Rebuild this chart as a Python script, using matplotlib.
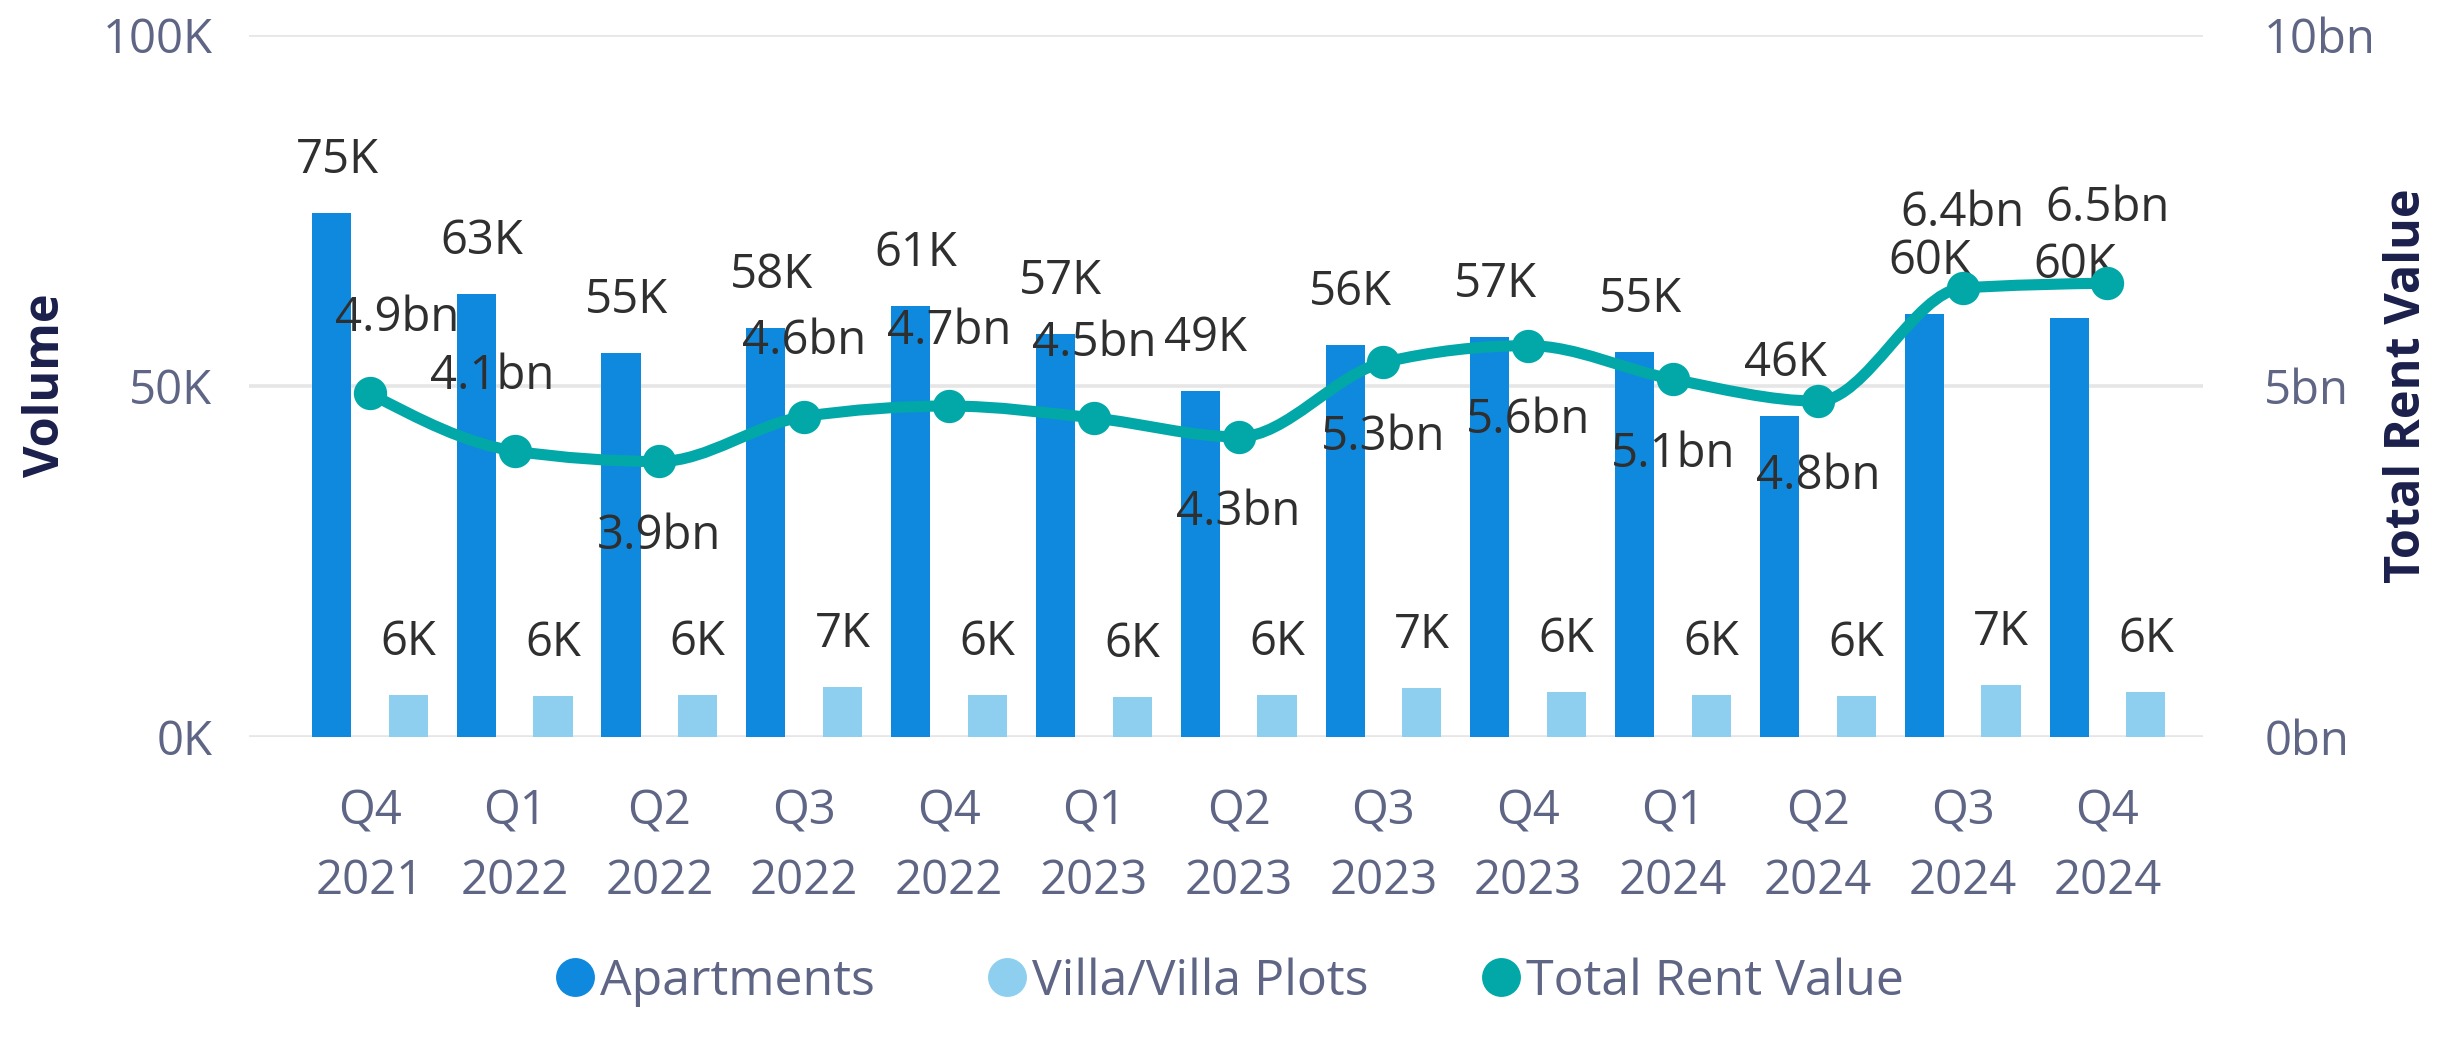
import matplotlib.pyplot as plt
import numpy as np
from matplotlib.path import Path
from matplotlib.patches import PathPatch
from matplotlib.lines import Line2D

plt.rcParams['font.family'] = ['Open Sans', 'DejaVu Sans']

quarters = ['Q4\n2021', 'Q1\n2022', 'Q2\n2022', 'Q3\n2022', 'Q4\n2022', 'Q1\n2023', 'Q2\n2023',
            'Q3\n2023', 'Q4\n2023', 'Q1\n2024', 'Q2\n2024', 'Q3\n2024', 'Q4\n2024']
apartments = [74.6, 63.0, 54.6, 58.2, 61.3, 57.3, 49.2, 55.8, 56.9, 54.8, 45.7, 60.2, 59.6]   # K
villas = [6.0, 5.8, 6.0, 7.1, 6.0, 5.7, 6.0, 6.9, 6.4, 6.0, 5.8, 7.4, 6.4]                   # K
rent_bn = [4.89, 4.07, 3.92, 4.56, 4.71, 4.54, 4.27, 5.33, 5.57, 5.09, 4.78, 6.39, 6.46]

vol_ticks = [0, 50, 100]
rent_ticks = [0, 5, 10]

c_apt = '#0f89de'
c_villa = '#8ecff0'
c_rent = '#02a8a8'
c_tick = '#5f6584'
c_label = '#2f2f2f'
c_title = '#1b1f4b'

# label placement for the rent line, roughly like the source tool put them
rent_side = [1, 1, -1, 1, 1, 1, -1, -1, -1, -1, -1, 1, 1]
rent_dx = [10, -8, 0, 0, 0, 0, 0, 0, 0, 0, 0, 0, 0]


def smooth_path(xs, ys):
    # monotone cubic through the points (no overshoot), drawn as beziers
    xs = np.asarray(xs, float)
    ys = np.asarray(ys, float)
    h = np.diff(xs)
    s = np.diff(ys) / h
    n = len(xs)
    t = np.zeros(n)
    for i in range(1, n - 1):
        p = (s[i - 1] * h[i] + s[i] * h[i - 1]) / (h[i - 1] + h[i])
        t[i] = (np.sign(s[i - 1]) + np.sign(s[i])) * min(abs(s[i - 1]), abs(s[i]), 0.5 * abs(p))
    t[0] = (3 * s[0] - t[1]) / 2
    t[-1] = (3 * s[-1] - t[-2]) / 2
    verts = [(xs[0], ys[0])]
    codes = [Path.MOVETO]
    for i in range(n - 1):
        dx = h[i] / 3
        verts += [(xs[i] + dx, ys[i] + dx * t[i]),
                  (xs[i + 1] - dx, ys[i + 1] - dx * t[i + 1]),
                  (xs[i + 1], ys[i + 1])]
        codes += [Path.CURVE4] * 3
    return Path(verts, codes)


fig = plt.figure(figsize=(12.185, 5.24), dpi=200)
ax = fig.add_axes([0.102, 0.297, 0.802, 0.670])
ax2 = ax.twinx()

x = np.arange(len(quarters))
w = 0.27
ax.bar(x - 0.265, apartments, w, color=c_apt, zorder=2)
ax.bar(x + 0.265, villas, w, color=c_villa, zorder=2)

for xi, v in zip(x, apartments):
    ax.annotate(f'{v:.0f}K', (xi - 0.265, v), xytext=(2, 19), textcoords='offset points',
                ha='center', va='center', fontsize=17, color=c_label)
for xi, v in zip(x, villas):
    ax.annotate(f'{v:.0f}K', (xi + 0.265, v), xytext=(0, 19), textcoords='offset points',
                ha='center', va='center', fontsize=17, color=c_label)

ax.set_ylim(0, 100)
ax.set_xlim(-0.837, 12.66)
ax.set_yticks(vol_ticks)
ax.set_yticklabels([f'{t}K' for t in vol_ticks])
ax.set_xticks(x)
ax.set_xticklabels(quarters, linespacing=1.6)
ax.grid(axis='y', color='#e6e6e6', lw=1.3, solid_capstyle='round')
ax.set_axisbelow(True)
ax.tick_params(axis='y', length=0, pad=13, labelsize=17, labelcolor=c_tick)
ax.tick_params(axis='x', length=0, pad=18.5, labelsize=17, labelcolor=c_tick)

ax2.add_patch(PathPatch(smooth_path(x, rent_bn), fill=False, edgecolor=c_rent, lw=4,
                        capstyle='round', joinstyle='round', zorder=3))
ax2.plot(x, rent_bn, 'o', color=c_rent, ms=11, zorder=4)
for xi, v, s, dx in zip(x, rent_bn, rent_side, rent_dx):
    ax2.annotate(f'{v:.1f}bn', (xi, v), xytext=(dx, 27 * s), textcoords='offset points',
                 ha='center', va='center', fontsize=17, color=c_label, zorder=5)
ax2.set_ylim(0, 10)
ax2.set_yticks(rent_ticks)
ax2.set_yticklabels([f'{t}bn' for t in rent_ticks])
ax2.tick_params(axis='y', length=0, pad=22, labelsize=17, labelcolor=c_tick)

for a in (ax, ax2):
    for sp in a.spines.values():
        sp.set_visible(False)

fig.text(0.019, 0.632, 'Volume', rotation=90, ha='center', va='center',
         fontsize=17.5, fontweight='bold', color=c_title)
fig.text(0.988, 0.632, 'Total Rent Value', rotation=90, ha='center', va='center',
         fontsize=17.5, fontweight='bold', color=c_title)

handles = [Line2D([], [], ls='none', marker='o', ms=13, color=c) for c in (c_apt, c_villa, c_rent)]
fig.legend(handles, ['Apartments', 'Villa/Villa Plots', 'Total Rent Value'],
           loc='center', bbox_to_anchor=(0.505, 0.063), ncol=3, frameon=False,
           fontsize=18, labelcolor=c_tick, handlelength=0.7, handletextpad=0.15,
           columnspacing=2.3)

fig.savefig('out.png', dpi=200)
